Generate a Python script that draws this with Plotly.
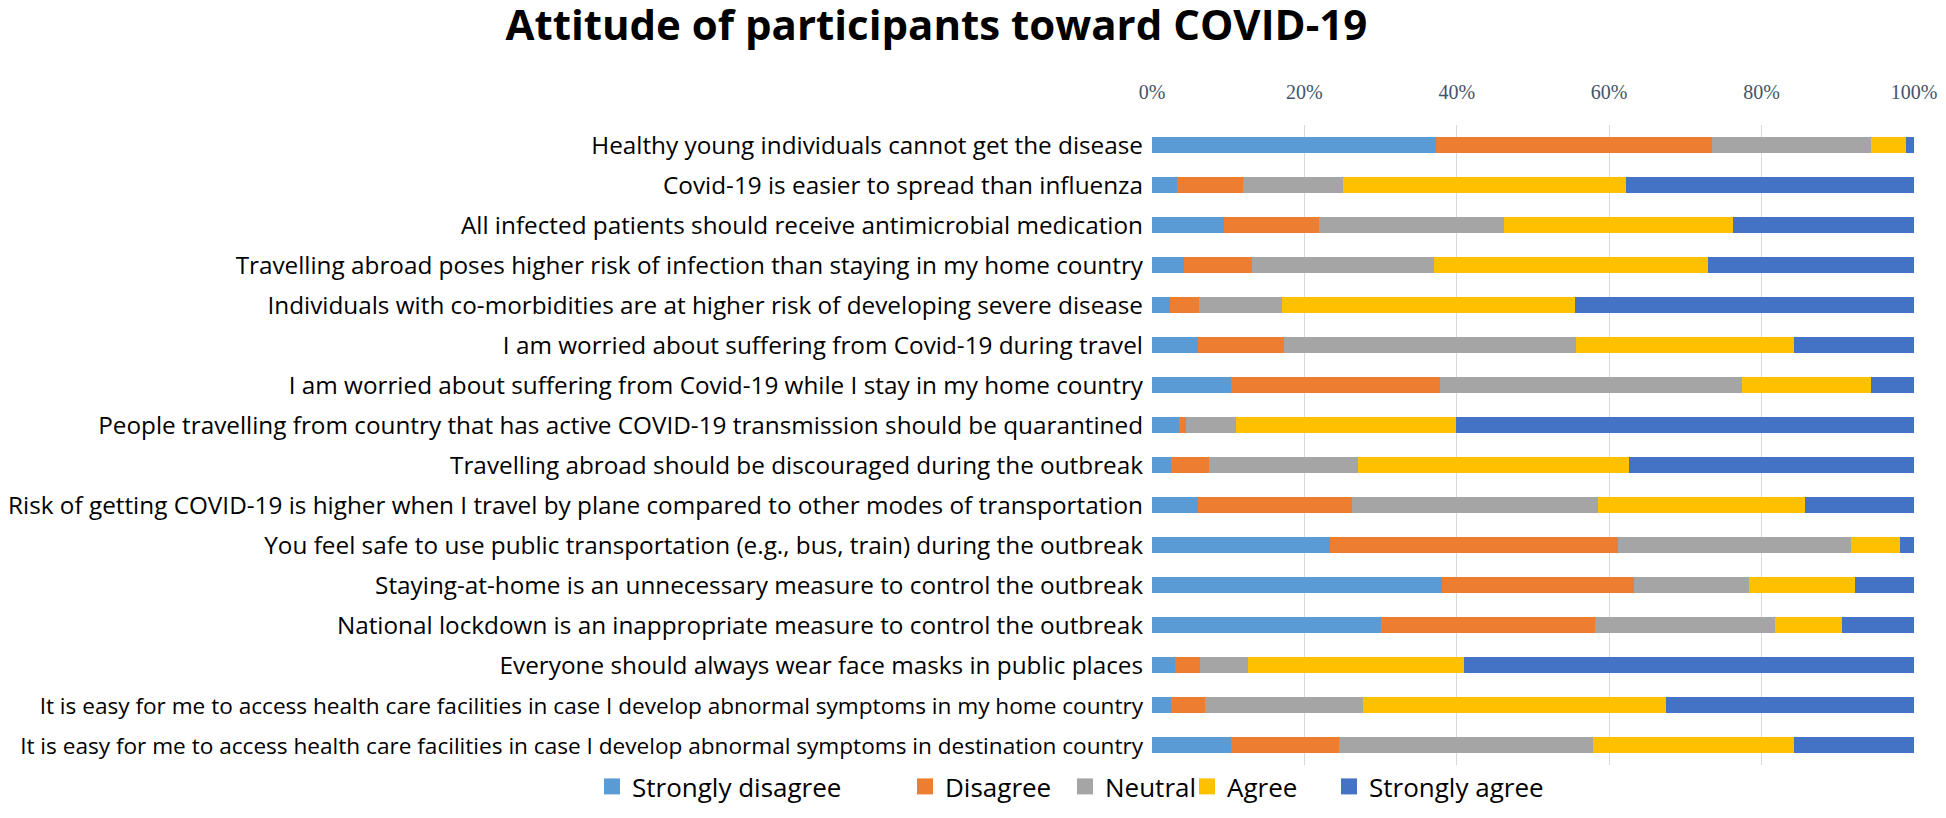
import plotly.graph_objects as go

categories = [
    "Healthy young individuals cannot get the disease",
    "Covid-19 is easier to spread than influenza",
    "All infected patients should receive antimicrobial medication",
    "Travelling abroad poses higher risk of infection than staying in my home country",
    "Individuals with co-morbidities are at higher risk of developing severe disease",
    "I am worried about suffering from Covid-19 during travel",
    "I am worried about suffering from Covid-19 while I stay in my home country",
    "People travelling from country that has active COVID-19 transmission should be quarantined",
    "Travelling abroad should be discouraged during the outbreak",
    "Risk of getting COVID-19 is higher when I travel by plane compared to other modes of transportation",
    "You feel safe to use public transportation (e.g., bus, train) during the outbreak",
    "Staying-at-home is an unnecessary measure to control the outbreak",
    "National lockdown is an inappropriate measure to control the outbreak",
    "Everyone should always wear face masks in public places",
    "It is easy for me to access health care facilities in case I develop abnormal symptoms in my home country",
    "It is easy for me to access health care facilities in case I develop abnormal symptoms in destination country",
]

strongly_disagree = [37.3, 3.3, 9.5, 4.2, 2.3, 6.0, 10.4, 3.5, 2.5, 6.0, 23.3, 38.1, 30.0, 3.0, 2.5, 10.4]
disagree = [36.2, 8.7, 12.4, 8.9, 3.9, 11.3, 27.4, 1.0, 5.0, 20.2, 37.8, 25.1, 28.1, 3.3, 4.5, 14.1]
neutral = [20.8, 13.1, 24.3, 23.9, 10.9, 38.3, 39.6, 6.5, 19.5, 32.3, 30.6, 15.1, 23.6, 6.3, 20.7, 33.4]
agree = [4.7, 37.1, 30.0, 36.0, 38.4, 28.6, 16.9, 28.9, 35.6, 27.2, 6.3, 14.0, 8.9, 28.3, 39.8, 26.3]
strongly_agree = [1.0, 37.8, 23.8, 27.0, 44.5, 15.8, 5.7, 60.2, 37.3, 14.3, 1.9, 7.7, 9.4, 59.1, 32.5, 15.8]

series_names = ["Strongly disagree", "Disagree", "Neutral", "Agree", "Strongly agree"]
series_values = [strongly_disagree, disagree, neutral, agree, strongly_agree]
series_colors = ["#5B9BD5", "#ED7D31", "#A5A5A5", "#FFC000", "#4472C4"]

# legend text start positions (px in the page)
legend_text_x = [633, 946, 1106, 1228, 1370]

# the page body has an 8px margin, so the figure is sized to fit inside it
W, H = 1930, 802

fig = go.Figure()
legend_ids = ["legend", "legend2", "legend3", "legend4", "legend5"]
for name, vals, color, lid in zip(series_names, series_values, series_colors, legend_ids):
    fig.add_trace(go.Bar(
        y=categories, x=vals, name=name, orientation="h",
        marker=dict(color=color, line=dict(width=0)),
        showlegend=False,
    ))
    # legend key only (larger square swatch, as in the reference)
    fig.add_trace(go.Scatter(
        x=[None], y=[None], mode="markers", name=name,
        marker=dict(symbol="square", size=16, color=color),
        legend=lid, showlegend=True, hoverinfo="skip",
    ))

# the two longest labels are set slightly smaller, as in the reference
ticktext = [
    f'<span style="font-size:22.6px">{c}</span>' if c.startswith("It is easy") else c
    for c in categories
]

layout_legends = {}
for lid, tx in zip(legend_ids, legend_text_x):
    layout_legends[lid] = dict(
        orientation="h", xref="container", yref="container",
        x=(tx - 49) / W, xanchor="left", y=0.0, yanchor="bottom",
        font=dict(family="Open Sans", size=26, color="black"),
        bgcolor="rgba(0,0,0,0)", itemsizing="trace",
    )

fig.update_layout(
    barmode="stack",
    barnorm="percent",
    bargap=0.6,
    width=W, height=H,
    paper_bgcolor="white", plot_bgcolor="white",
    margin=dict(l=1144, r=24, t=117, b=45, autoexpand=False),
    title=dict(
        text="<b>Attitude of participants toward COVID-19</b>",
        x=0.481, xanchor="center", y=0.979, yanchor="middle",
        font=dict(family="Open Sans", size=42, color="black"),
    ),
    font=dict(family="Open Sans", color="black"),
    showlegend=True,
    **layout_legends,
)

fig.update_xaxes(
    side="top", range=[0, 100], dtick=20, ticksuffix="%",
    showgrid=True, gridcolor="#D9D9D9", gridwidth=1,
    zeroline=False, showline=False, automargin=False,
    tickfont=dict(family="Liberation Serif", size=20, color="#44546A"),
    ticks="", ticklabelstandoff=21,
)
fig.update_yaxes(
    autorange="reversed", automargin=False,
    tickmode="array", tickvals=categories, ticktext=ticktext,
    tickfont=dict(family="Open Sans", size=24.3, color="black"),
    showgrid=False, showline=False, ticks="", ticklabelstandoff=8,
)

fig.write_html("out.html")
